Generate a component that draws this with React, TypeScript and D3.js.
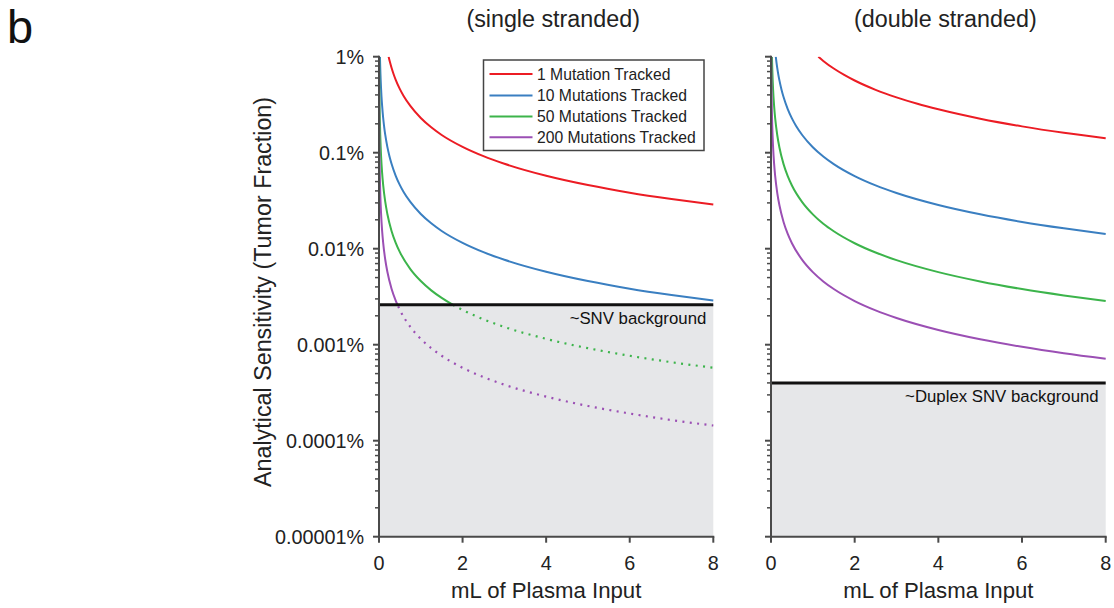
import React from "react";
import * as d3 from "d3";

// ---------- DATA (y in % tumour fraction) ----------
const seriesNames = ["1 Mutation Tracked", "10 Mutations Tracked", "50 Mutations Tracked", "200 Mutations Tracked"];
const seriesColors = ["#ec1c24", "#3a7fc1", "#3cb44b", "#9b4fb4"];

const xTicks = [0, 2, 4, 6, 8];
const yTicks = [1, 0.1, 0.01, 0.001, 0.0001, 0.00001];
const yTickLabels = ["1%", "0.1%", "0.01%", "0.001%", "0.0001%", "0.00001%"];

// single stranded panel
const ssRedX = [0.23, 0.26, 0.3, 0.35, 0.4, 0.5, 0.6, 0.75, 1, 1.25, 1.5, 2, 2.5, 3, 4, 5, 6, 7, 8];
const ssRedY = [1.0, 0.885, 0.767, 0.657, 0.575, 0.46, 0.383, 0.307, 0.23, 0.184, 0.153, 0.115, 0.092, 0.0767, 0.0575, 0.046, 0.0383, 0.0329, 0.0288];
const ssBlueX = [0.023, 0.026, 0.03, 0.035, 0.04, 0.05, 0.06, 0.075, 0.1, 0.125, 0.15, 0.2, 0.25, 0.3, 0.4, 0.5, 0.6, 0.75, 1, 1.25, 1.5, 2, 2.5, 3, 4, 5, 6, 7, 8];
const ssBlueY = [1.0, 0.885, 0.767, 0.657, 0.575, 0.46, 0.383, 0.307, 0.23, 0.184, 0.153, 0.115, 0.092, 0.0767, 0.0575, 0.046, 0.0383, 0.0307, 0.023, 0.0184, 0.0153, 0.0115, 0.0092, 0.00767, 0.00575, 0.0046, 0.00383, 0.00329, 0.00288];
const ssGreenX = [0.0046, 0.006, 0.008, 0.01, 0.015, 0.02, 0.03, 0.04, 0.05, 0.075, 0.1, 0.15, 0.2, 0.3, 0.4, 0.5, 0.75, 1, 1.25, 1.5, 2, 2.5, 3, 4, 5, 6, 7, 8];
const ssGreenY = [1.0, 0.767, 0.575, 0.46, 0.307, 0.23, 0.153, 0.115, 0.092, 0.0613, 0.046, 0.0307, 0.023, 0.0153, 0.0115, 0.0092, 0.00613, 0.0046, 0.00368, 0.00307, 0.0023, 0.00184, 0.00153, 0.00115, 0.00092, 0.000767, 0.000657, 0.000575];
const ssPurpleX = [0.00115, 0.0015, 0.002, 0.003, 0.005, 0.0075, 0.01, 0.015, 0.02, 0.03, 0.05, 0.075, 0.1, 0.15, 0.2, 0.3, 0.4, 0.5, 0.75, 1, 1.5, 2, 2.5, 3, 4, 5, 6, 7, 8];
const ssPurpleY = [1.0, 0.767, 0.575, 0.383, 0.23, 0.153, 0.115, 0.0767, 0.0575, 0.0383, 0.023, 0.0153, 0.0115, 0.00767, 0.00575, 0.00383, 0.00288, 0.0023, 0.00153, 0.00115, 0.000767, 0.000575, 0.00046, 0.000383, 0.000288, 0.00023, 0.000192, 0.000164, 0.000144];
const ssBackground = 0.0026;

// double stranded panel
const dsRedX = [1.13, 1.25, 1.5, 1.75, 2, 2.5, 3, 3.5, 4, 5, 6, 7, 8];
const dsRedY = [1.0, 0.904, 0.753, 0.646, 0.565, 0.452, 0.377, 0.323, 0.283, 0.226, 0.188, 0.161, 0.141];
const dsBlueX = [0.114, 0.13, 0.15, 0.175, 0.2, 0.25, 0.3, 0.4, 0.5, 0.6, 0.75, 1, 1.25, 1.5, 2, 2.5, 3, 4, 5, 6, 7, 8];
const dsBlueY = [1.0, 0.877, 0.76, 0.651, 0.57, 0.456, 0.38, 0.285, 0.228, 0.19, 0.152, 0.114, 0.0912, 0.076, 0.057, 0.0456, 0.038, 0.0285, 0.0228, 0.019, 0.0163, 0.01425];
const dsGreenX = [0.0228, 0.03, 0.04, 0.05, 0.075, 0.1, 0.15, 0.2, 0.3, 0.4, 0.5, 0.75, 1, 1.25, 1.5, 2, 2.5, 3, 4, 5, 6, 7, 8];
const dsGreenY = [1.0, 0.76, 0.57, 0.456, 0.304, 0.228, 0.152, 0.114, 0.076, 0.057, 0.0456, 0.0304, 0.0228, 0.0182, 0.0152, 0.0114, 0.00912, 0.0076, 0.0057, 0.00456, 0.0038, 0.00326, 0.00285];
const dsPurpleX = [0.0057, 0.0075, 0.01, 0.015, 0.02, 0.03, 0.05, 0.075, 0.1, 0.15, 0.2, 0.3, 0.4, 0.5, 0.75, 1, 1.25, 1.5, 2, 2.5, 3, 4, 5, 6, 7, 8];
const dsPurpleY = [1.0, 0.76, 0.57, 0.38, 0.285, 0.19, 0.114, 0.076, 0.057, 0.038, 0.0285, 0.019, 0.01425, 0.0114, 0.0076, 0.0057, 0.00456, 0.0038, 0.00285, 0.00228, 0.0019, 0.001425, 0.00114, 0.00095, 0.000814, 0.000713];
const dsBackground = 0.0004;

const FONT = "'Liberation Sans', Arial, Helvetica, sans-serif";

type Pt = [number, number];
const zip = (xs: number[], ys: number[]): Pt[] => xs.map((x, i) => [x, ys[i]]);

interface PanelProps {
  id: string;
  x0: number;
  x1: number;
  title: string;
  series: Pt[][];
  background: number;
  bgLabel: string;
  showYLabels: boolean;
}

const yScale = d3.scaleLog().domain([1e-5, 1]).range([536.7, 56.7]);

function Panel({ id, x0, x1, title, series, background, bgLabel, showYLabels }: PanelProps) {
  const x = d3.scaleLinear().domain([0, 8]).range([x0, x1]);
  const y = yScale;
  const line = d3
    .line<Pt>()
    .x((d) => x(d[0]))
    .y((d) => y(d[1]))
    .curve(d3.curveMonotoneX);
  const bgY = y(background);
  const top = y(1);
  const bottom = y(1e-5);
  const minor: number[] = [];
  for (let e = -5; e < 0; e++) for (let k = 2; k <= 9; k++) minor.push(k * Math.pow(10, e));
  const axisColor = "#4a4a4a";
  return (
    <g>
      <defs>
        <clipPath id={`${id}-above`}>
          <rect x={x0} y={top} width={x1 - x0 + 2} height={bgY - top} />
        </clipPath>
        <clipPath id={`${id}-below`}>
          <rect x={x0} y={bgY} width={x1 - x0 + 2} height={bottom - bgY} />
        </clipPath>
      </defs>
      {/* grey background region */}
      <rect x={x0} y={bgY} width={x1 - x0} height={bottom - bgY} fill="#e6e7e9" />
      {/* curves */}
      {series.map((pts, i) => (
        <g key={i}>
          <path d={line(pts) || ""} fill="none" stroke={seriesColors[i]} strokeWidth={2} clipPath={`url(#${id}-above)`} />
          <path
            d={line(pts) || ""}
            fill="none"
            stroke={seriesColors[i]}
            strokeWidth={2.2}
            strokeDasharray="2 5.4"
            clipPath={`url(#${id}-below)`}
          />
        </g>
      ))}
      {/* background line */}
      <line x1={x0} x2={x1} y1={bgY} y2={bgY} stroke="#111" strokeWidth={3} />
      <text x={x1 - 7} y={bgY + 19.5} textAnchor="end" fontFamily={FONT} fontSize={16.8} fill="#111">
        {bgLabel}
      </text>
      {/* y axis */}
      <line x1={x0} x2={x0} y1={top - 1} y2={bottom} stroke={axisColor} strokeWidth={2} />
      {yTicks.map((t, i) => (
        <g key={t}>
          <line x1={x0 - 6} x2={x0} y1={y(t)} y2={y(t)} stroke={axisColor} strokeWidth={2} />
          {showYLabels && (
            <text x={x0 - 15} y={y(t)} dy="0.36em" textAnchor="end" fontFamily={FONT} fontSize={19.8} fill="#222">
              {yTickLabels[i]}
            </text>
          )}
        </g>
      ))}
      {minor.map((t) => (
        <line key={t} x1={x0 - 4} x2={x0} y1={y(t)} y2={y(t)} stroke={axisColor} strokeWidth={1.5} />
      ))}
      {/* x axis */}
      <line x1={x0 - 1} x2={x1 + 1} y1={bottom} y2={bottom} stroke={axisColor} strokeWidth={2} />
      {xTicks.map((t) => (
        <g key={t}>
          <line x1={x(t)} x2={x(t)} y1={bottom} y2={bottom + 6} stroke={axisColor} strokeWidth={2} />
          <text x={x(t)} y={570} textAnchor="middle" fontFamily={FONT} fontSize={19.8} fill="#222">
            {t}
          </text>
        </g>
      ))}
      <text x={(x0 + x1) / 2} y={598} textAnchor="middle" fontFamily={FONT} fontSize={22.2} fill="#222">
        mL of Plasma Input
      </text>
      <text x={(x0 + x1) / 2 + 7} y={26.5} textAnchor="middle" fontFamily={FONT} fontSize={23.3} fill="#222">
        {title}
      </text>
    </g>
  );
}

export default function App() {
  const ssSeries = [zip(ssRedX, ssRedY), zip(ssBlueX, ssBlueY), zip(ssGreenX, ssGreenY), zip(ssPurpleX, ssPurpleY)];
  const dsSeries = [zip(dsRedX, dsRedY), zip(dsBlueX, dsBlueY), zip(dsGreenX, dsGreenY), zip(dsPurpleX, dsPurpleY)];
  const legendRows = [74, 95.5, 116.5, 137.3];
  return (
    <svg width={1114} height={608} style={{ position: "absolute", left: 0, top: 0, background: "#fff" }}>
      <text x={7} y={43} fontFamily={FONT} fontSize={47} fill="#111">
        b
      </text>
      <text
        transform="translate(270.5, 292) rotate(-90)"
        textAnchor="middle"
        fontFamily={FONT}
        fontSize={23.3}
        fill="#222"
      >
        Analytical Sensitivity (Tumor Fraction)
      </text>
      <Panel
        id="ss"
        x0={379}
        x1={713.3}
        title="(single stranded)"
        series={ssSeries}
        background={ssBackground}
        bgLabel="~SNV background"
        showYLabels={true}
      />
      <Panel
        id="ds"
        x0={771}
        x1={1105.7}
        title="(double stranded)"
        series={dsSeries}
        background={dsBackground}
        bgLabel="~Duplex SNV background"
        showYLabels={false}
      />
      {/* legend */}
      <g>
        <rect x={483.5} y={60} width={220.5} height={90.5} fill="#fff" stroke="#444" strokeWidth={1.5} />
        {seriesNames.map((n, i) => (
          <g key={n}>
            <line x1={489.5} x2={532.5} y1={legendRows[i]} y2={legendRows[i]} stroke={seriesColors[i]} strokeWidth={2} />
            <text x={537} y={legendRows[i]} dy="0.36em" fontFamily={FONT} fontSize={15.7} fill="#222">
              {n}
            </text>
          </g>
        ))}
      </g>
    </svg>
  );
}
